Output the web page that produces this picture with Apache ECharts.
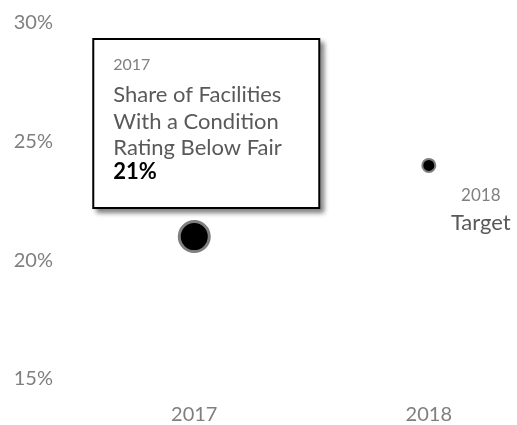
<!DOCTYPE html>
<html>
<head>
<meta charset="utf-8">
<script src="https://cdn.jsdelivr.net/npm/echarts@6/dist/echarts.min.js"></script>
<style>
  html, body { margin: 0; padding: 0; background: #fff; }
  #chart { width: 517px; height: 425px; }
</style>
</head>
<body>
<div id="chart"></div>
<script>
const years = [2017, 2018]
const shares = [21, 24]
const yTicks = [15, 20, 25, 30]
const calloutTitle = ['Share of Facilities', 'With a Condition', 'Rating Below Fair']
const targetLabel = 'Target'

const FONT = 'Lato'
const chart = echarts.init(document.getElementById('chart'))

// 2017 = actual (big dot with callout), 2018 = target (small dot)
const points = shares.map((v, i) => {
  const isActual = i === 0
  return {
    value: [years[i], v],
    symbolSize: isActual ? 30 : 13,
    itemStyle: {
      color: '#000',
      opacity: 1,
      borderColor: '#7f7f7f',
      borderWidth: isActual ? 3 : 2
    },
    label: isActual ? {
      show: true,
      position: 'top',
      distance: 13,
      offset: [-100, 0],
      align: 'left',
      backgroundColor: '#fff',
      borderColor: '#000',
      borderWidth: 2,
      padding: [8, 20, 24, 19],
      width: 185,
      shadowColor: 'rgba(0,0,0,0.45)',
      shadowBlur: 5,
      shadowOffsetX: 4,
      shadowOffsetY: 4,
      formatter: ['{yr|' + years[i] + '}', ...calloutTitle.map(t => '{txt|' + t + '}'), '{val|' + v + '%}'].join('\n'),
      rich: {
        yr: { fontFamily: FONT, fontSize: 16, color: '#7f7f7f', lineHeight: 34 },
        txt: { fontFamily: FONT, fontSize: 22, color: '#595959', lineHeight: 26.5 },
        val: { fontFamily: FONT, fontSize: 22, fontWeight: 'bold', color: '#000', lineHeight: 21.5 }
      }
    } : {
      show: true,
      position: 'inside',
      offset: [52, 44],
      align: 'center',
      formatter: '{yr|' + years[i] + '}\n{tg|' + targetLabel + '}',
      rich: {
        yr: { fontFamily: FONT, fontSize: 17, color: '#7f7f7f', lineHeight: 27, align: 'center' },
        tg: { fontFamily: FONT, fontSize: 22, color: '#595959', lineHeight: 27, align: 'center' }
      }
    }
  }
})

chart.setOption({
  backgroundColor: '#fff',
  animation: false,
  grid: { left: 77, right: 0, top: 23, bottom: 44 },
  xAxis: {
    type: 'value',
    min: 2016.5,
    max: 2018.376,
    splitLine: { show: false },
    axisLine: { show: false },
    axisTick: { show: false },
    axisLabel: {
      color: '#7f7f7f', fontFamily: FONT, fontSize: 20, margin: 26,
      customValues: years,
      formatter: v => String(v)
    }
  },
  yAxis: {
    type: 'value',
    min: yTicks[0],
    max: yTicks[yTicks.length - 1],
    interval: 5,
    splitLine: { show: false },
    axisLine: { show: false },
    axisTick: { show: false },
    axisLabel: { color: '#7f7f7f', fontFamily: FONT, fontSize: 20, margin: 24, formatter: '{value}%' }
  },
  series: [{
    type: 'scatter',
    data: points
  }]
})
</script>
</body>
</html>
